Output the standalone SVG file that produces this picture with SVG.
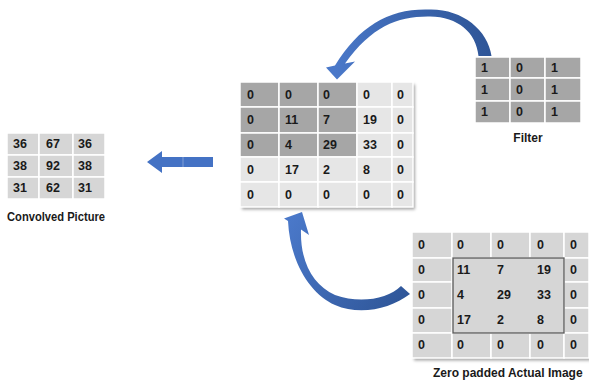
<svg xmlns="http://www.w3.org/2000/svg" width="589" height="385" viewBox="0 0 589 385">
<defs>
<filter id="sh" x="-10%" y="-10%" width="125%" height="125%">
<feDropShadow dx="2" dy="2.5" stdDeviation="1.5" flood-color="#000" flood-opacity="0.35"/>
</filter>
<linearGradient id="gTop" x1="490" y1="40" x2="335" y2="70" gradientUnits="userSpaceOnUse">
<stop offset="0" stop-color="#2e5597"/><stop offset="1" stop-color="#4a78c9"/>
</linearGradient>
<linearGradient id="gBot" x1="410" y1="300" x2="290" y2="220" gradientUnits="userSpaceOnUse">
<stop offset="0" stop-color="#2e5597"/><stop offset="1" stop-color="#4a78c9"/>
</linearGradient>
</defs>
<style>
.c rect{stroke:#fff;stroke-width:1.5}
.dk{fill:#a6a6a6}
.lt{fill:#e6e6e6}
.md{fill:#d6d6d6}
.t{font-family:"Liberation Sans",Arial,sans-serif;font-weight:bold;font-size:12.5px;fill:#1a1a1a}
.lbl{font-family:"Liberation Sans",Arial,sans-serif;font-weight:bold;font-size:12px;fill:#1a1a1a}
</style>
<rect width="589" height="385" fill="#fff"/>

<g id="connectors">
<path id="arrow-filter" fill="url(#gTop)" d="M 478.5,56 L 491.5,56 C 488,30 462,9 430,9.5 C 390,8 360,25 335,65.5 L 326,67.5 L 337,79.5 L 355,61.5 L 345,63.5 C 372,26 398,16 430,16.5 C 458,17 476,32 478.5,56 Z"/>
<path id="arrow-image" fill="url(#gBot)" d="M 401,286 L 410,294 C 390,309 360,316 335,305 C 310,294 290,262 288,221 L 284,218.5 L 302,212 L 309,235 L 301,229.4 C 300,262 313,285 335,295 C 360,304 388,299 401,286 Z"/>
<g id="arrow-left" fill="#4472c4">
<path d="M 147,162 L 162,151 L 162,157 L 213,157 L 213,167 L 162,167 L 162,173 Z"/>
<line x1="183" y1="157" x2="183" y2="167" stroke="#8faadc" stroke-width="0.8"/>
</g>
</g>

<g id="padded-window">
<rect x="240" y="82" width="173" height="125" class="lt" filter="url(#sh)"/>
<g class="c">
<rect x="240" y="82" width="39" height="25" class="dk"/><rect x="279" y="82" width="39" height="25" class="dk"/><rect x="318" y="82" width="39" height="25" class="dk"/><rect x="357" y="82" width="35" height="25" class="lt"/><rect x="392" y="82" width="21" height="25" class="lt"/>
<rect x="240" y="107" width="39" height="26" class="dk"/><rect x="279" y="107" width="39" height="26" class="dk"/><rect x="318" y="107" width="39" height="26" class="dk"/><rect x="357" y="107" width="35" height="26" class="lt"/><rect x="392" y="107" width="21" height="26" class="lt"/>
<rect x="240" y="133" width="39" height="24" class="dk"/><rect x="279" y="133" width="39" height="24" class="dk"/><rect x="318" y="133" width="39" height="24" class="dk"/><rect x="357" y="133" width="35" height="24" class="lt"/><rect x="392" y="133" width="21" height="24" class="lt"/>
<rect x="240" y="157" width="39" height="25" class="lt"/><rect x="279" y="157" width="39" height="25" class="lt"/><rect x="318" y="157" width="39" height="25" class="lt"/><rect x="357" y="157" width="35" height="25" class="lt"/><rect x="392" y="157" width="21" height="25" class="lt"/>
<rect x="240" y="182" width="39" height="25" class="lt"/><rect x="279" y="182" width="39" height="25" class="lt"/><rect x="318" y="182" width="39" height="25" class="lt"/><rect x="357" y="182" width="35" height="25" class="lt"/><rect x="392" y="182" width="21" height="25" class="lt"/>
</g>
<g class="t">
<text x="247" y="99">0</text><text x="285" y="99">0</text><text x="323" y="99">0</text><text x="363" y="99">0</text><text x="397" y="99">0</text>
<text x="247" y="124">0</text><text x="285" y="124">11</text><text x="323" y="124">7</text><text x="363" y="124">19</text><text x="397" y="124">0</text>
<text x="247" y="149">0</text><text x="285" y="149">4</text><text x="323" y="149">29</text><text x="363" y="149">33</text><text x="397" y="149">0</text>
<text x="247" y="174">0</text><text x="285" y="174">17</text><text x="323" y="174">2</text><text x="363" y="174">8</text><text x="397" y="174">0</text>
<text x="247" y="199">0</text><text x="285" y="199">0</text><text x="323" y="199">0</text><text x="363" y="199">0</text><text x="397" y="199">0</text>
</g>
</g>

<g id="filter">
<g class="c">
<rect x="475" y="57" width="35" height="21" class="dk"/><rect x="510" y="57" width="35" height="21" class="dk"/><rect x="545" y="57" width="36" height="21" class="dk"/>
<rect x="475" y="78" width="35" height="23" class="dk"/><rect x="510" y="78" width="35" height="23" class="dk"/><rect x="545" y="78" width="36" height="23" class="dk"/>
<rect x="475" y="101" width="35" height="22" class="dk"/><rect x="510" y="101" width="35" height="22" class="dk"/><rect x="545" y="101" width="36" height="22" class="dk"/>
</g>
<g class="t">
<text x="481" y="72">1</text><text x="516" y="72">0</text><text x="551" y="72">1</text>
<text x="481" y="94">1</text><text x="516" y="94">0</text><text x="551" y="94">1</text>
<text x="481" y="116">1</text><text x="516" y="116">0</text><text x="551" y="116">1</text>
</g>
<text class="lbl" x="528" y="142" text-anchor="middle">Filter</text>
</g>

<g id="convolved">
<g class="c">
<rect x="7" y="133" width="32" height="22" class="md"/><rect x="39" y="133" width="34" height="22" class="md"/><rect x="73" y="133" width="32" height="22" class="md"/>
<rect x="7" y="155" width="32" height="22" class="md"/><rect x="39" y="155" width="34" height="22" class="md"/><rect x="73" y="155" width="32" height="22" class="md"/>
<rect x="7" y="177" width="32" height="22" class="md"/><rect x="39" y="177" width="34" height="22" class="md"/><rect x="73" y="177" width="32" height="22" class="md"/>
</g>
<g class="t">
<text x="13" y="148">36</text><text x="46" y="148">67</text><text x="78" y="148">36</text>
<text x="13" y="170">38</text><text x="46" y="170">92</text><text x="78" y="170">38</text>
<text x="13" y="192">31</text><text x="46" y="192">62</text><text x="78" y="192">31</text>
</g>
<text class="lbl" x="7" y="221" textLength="98" lengthAdjust="spacingAndGlyphs">Convolved Picture</text>
</g>

<g id="zero-padded">
<rect x="412" y="232" width="177" height="126" class="md" filter="url(#sh)"/>
<g class="c">
<rect x="412" y="232" width="40" height="26" class="md"/><rect x="452" y="232" width="39" height="26" class="md"/><rect x="491" y="232" width="39" height="26" class="md"/><rect x="530" y="232" width="34" height="26" class="md"/><rect x="564" y="232" width="25" height="26" class="md"/>
<rect x="412" y="258" width="40" height="24" class="md"/><rect x="564" y="258" width="25" height="24" class="md"/>
<rect x="412" y="282" width="40" height="26" class="md"/><rect x="564" y="282" width="25" height="26" class="md"/>
<rect x="412" y="308" width="40" height="25" class="md"/><rect x="564" y="308" width="25" height="25" class="md"/>
<rect x="412" y="333" width="40" height="25" class="md"/><rect x="452" y="333" width="39" height="25" class="md"/><rect x="491" y="333" width="39" height="25" class="md"/><rect x="530" y="333" width="34" height="25" class="md"/><rect x="564" y="333" width="25" height="25" class="md"/>
</g>
<rect x="453" y="258" width="111" height="75" class="md" stroke="#595959" stroke-width="1.3"/>
<g class="t">
<text x="418" y="249">0</text><text x="457" y="249">0</text><text x="497" y="249">0</text><text x="537" y="249">0</text><text x="570" y="249">0</text>
<text x="418" y="274">0</text><text x="457" y="274">11</text><text x="497" y="274">7</text><text x="537" y="274">19</text><text x="570" y="274">0</text>
<text x="418" y="299">0</text><text x="457" y="299">4</text><text x="497" y="299">29</text><text x="537" y="299">33</text><text x="570" y="299">0</text>
<text x="418" y="324">0</text><text x="457" y="324">17</text><text x="497" y="324">2</text><text x="537" y="324">8</text><text x="570" y="324">0</text>
<text x="418" y="349">0</text><text x="457" y="349">0</text><text x="497" y="349">0</text><text x="537" y="349">0</text><text x="570" y="349">0</text>
</g>
<text class="lbl" x="433" y="377">Zero padded Actual Image</text>
</g>
</svg>
